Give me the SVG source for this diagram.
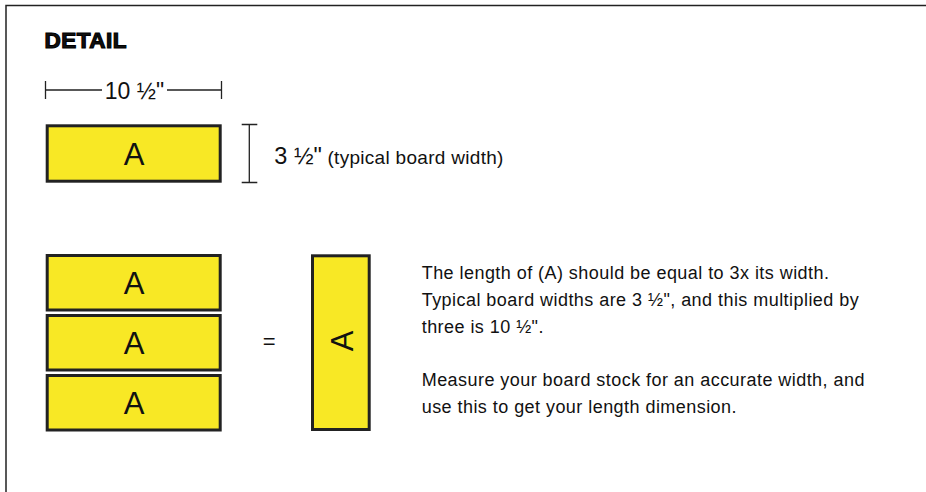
<svg xmlns="http://www.w3.org/2000/svg" width="926" height="492" viewBox="0 0 926 492">
<style>
.frame{fill:none;stroke:#222;stroke-width:1.5}
.board{fill:#f8e825;stroke:#222;stroke-width:3}
.dim{fill:none;stroke:#222;stroke-width:1.3}
.lbl{font-family:"Liberation Sans",Arial,sans-serif;font-size:31px;fill:#111;text-anchor:middle}
.t{font-family:"Liberation Sans",Arial,sans-serif;fill:#111}
.para{font-family:"Liberation Sans",Arial,sans-serif;font-size:18px;letter-spacing:0.45px;fill:#111}
</style>
<rect width="926" height="492" fill="#fff"/>
<path class="frame" d="M6,492 V5.5 H926"/>
<text class="t" x="44.5" y="48.3" font-size="22.5" font-weight="bold" letter-spacing="0.5" stroke="#000" stroke-width="1.2">DETAIL</text>
<g id="dim-length">
<path class="dim" d="M45.5,81 V99 M221.5,81 V99 M45.5,90 H102 M167,90 H221.5"/>
<text class="t" x="134.5" y="99" font-size="23" text-anchor="middle">10 ½"</text>
</g>
<g id="board-single">
<rect class="board" x="47.2" y="125.8" width="173" height="55.4"/>
<text class="lbl" x="134" y="164.5">A</text>
</g>
<g id="dim-width">
<path class="dim" d="M249.3,124.5 V182.5 M241.7,124.5 H257.3 M241.7,182.5 H257.3"/>
<text class="t" x="274.3" y="163.5" font-size="23.5">3 ½"<tspan font-size="19" letter-spacing="0.3"> (typical board width)</tspan></text>
</g>
<g id="board-stack-1">
<rect class="board" x="47.2" y="255.5" width="173" height="54.5"/>
<text class="lbl" x="134" y="293.5">A</text>
</g>
<g id="board-stack-2">
<rect class="board" x="47.2" y="315.5" width="173" height="54.5"/>
<text class="lbl" x="134" y="353.5">A</text>
</g>
<g id="board-stack-3">
<rect class="board" x="47.2" y="375.5" width="173" height="54.5"/>
<text class="lbl" x="134" y="413.5">A</text>
</g>
<g id="equals">
<text class="t" x="269.3" y="348.5" font-size="22" text-anchor="middle">=</text>
</g>
<g id="board-vertical">
<rect class="board" x="312.5" y="255.8" width="56.7" height="173.7"/>
<text class="lbl" transform="translate(352.5,341) rotate(-90)" x="0" y="0">A</text>
</g>
<g id="description">
<text class="para" x="421.7" y="278.5">The length of (A) should be equal to 3x its width.</text>
<text class="para" x="421.7" y="305.5">Typical board widths are 3 ½", and this multiplied by</text>
<text class="para" x="421.7" y="332.5">three is 10 ½".</text>
<text class="para" x="421.7" y="385.5">Measure your board stock for an accurate width, and</text>
<text class="para" x="421.7" y="412.5">use this to get your length dimension.</text>
</g>
</svg>
